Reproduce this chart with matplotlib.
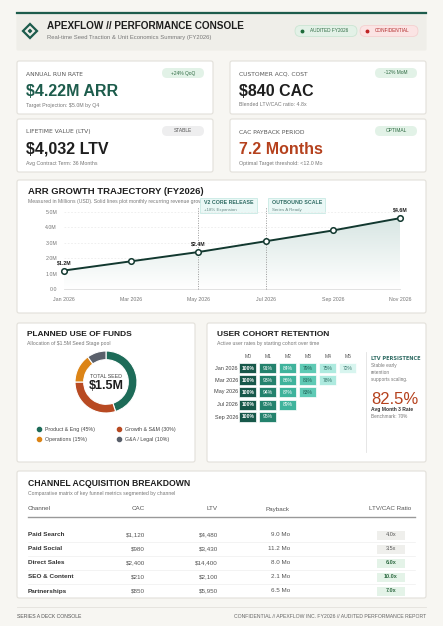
import matplotlib
matplotlib.use("Agg")
import matplotlib.pyplot as plt
import numpy as np
from matplotlib.patches import FancyBboxPatch, Rectangle, Polygon

plt.rcParams['font.family'] = ['Liberation Sans', 'DejaVu Sans']

# ---------------- data ----------------
arr_months = ["Jan 2026", "Mar 2026", "May 2026", "Jul 2026", "Sep 2026", "Nov 2026"]
arr_values = [1.2, 1.8, 2.4, 3.1, 3.8, 4.6]
arr_yticks = [0, 1, 2, 3, 4, 5]

fund_labels = ["Product & Eng (45%)", "Growth & S&M (30%)", "Operations (15%)", "G&A / Legal (10%)"]
fund_shares = [45, 30, 15, 10]
fund_colors = ["#1d6b58", "#b84a22", "#dc8416", "#5a606b"]

cohort_rows = ["Jan 2026", "Mar 2026", "May 2026", "Jul 2026", "Sep 2026"]
cohort_cols = ["M0", "M1", "M2", "M3", "M4", "M5"]
cohort_vals = [[100, 91, 84, 79, 75, 72],
               [100, 93, 86, 81, 78],
               [100, 94, 87, 83],
               [100, 95, 89],
               [100, 95]]

channels = ["Paid Search", "Paid Social", "Direct Sales", "SEO & Content", "Partnerships"]
ch_cac = ["$1,120", "$980", "$2,400", "$210", "$850"]
ch_ltv = ["$4,480", "$3,430", "$14,400", "$2,100", "$5,950"]
ch_payback = ["9.0 Mo", "11.2 Mo", "8.0 Mo", "2.1 Mo", "6.5 Mo"]
ch_ratio = [4.0, 3.5, 6.0, 10.0, 7.0]

W, H = 443, 626
fig = plt.figure(figsize=(W / 100, H / 100), dpi=100)
fig.patch.set_facecolor("#f7f6f2")
base = fig.add_axes([0, 0, 1, 1])
base.set_xlim(0, W); base.set_ylim(H, 0); base.axis("off")

DARK = "#1e1e1e"; GREEN = "#1d5c4c"; GREY = "#777777"; RED = "#b5411d"

def box(x0, y0, x1, y1, fc="white", ec="#e2e0da", lw=0.8, r=2, z=1):
    base.add_patch(FancyBboxPatch((x0, y0), x1 - x0, y1 - y0,
                                  boxstyle=f"round,pad=0,rounding_size={r}",
                                  fc=fc, ec=ec, lw=lw, zorder=z))

def t(x, y, s, size=5, color=DARK, ha="left", va="center", weight="normal", **kw):
    base.text(x, y, s, fontsize=size, color=color, ha=ha, va=va, weight=weight, zorder=5, **kw)

def rpill(cx, cy, w, h, s, fc, tc, size=3.7, ec="none", dot=None):
    base.add_patch(FancyBboxPatch((cx - w / 2, cy - h / 2), w, h,
                                  boxstyle=f"round,pad=0,rounding_size={h/2}",
                                  fc=fc, ec=ec, lw=0.5, zorder=4))
    if dot:
        base.plot([cx - w / 2 + 7], [cy], "o", ms=1.8, color=dot, zorder=6)
        t(cx + 3, cy, s, size=size, color=tc, ha="center")
    else:
        t(cx, cy, s, size=size, color=tc, ha="center")

def spaced(s):
    return "\u2009".join(s) if False else s

# ---------------- header ----------------
box(17, 12, 426, 50, fc="#efeee9", ec="#efeee9", r=1)
base.plot([17, 426], [12.5, 12.5], color="#1d5c4c", lw=1.6, zorder=3)
base.add_patch(Polygon([[30, 24], [37, 31], [30, 38], [23, 31]], closed=True, fc="none", ec=GREEN, lw=1.6, zorder=4))
base.add_patch(Polygon([[30, 29], [32, 31], [30, 33], [28, 31]], closed=True, fc=GREEN, ec=GREEN, lw=0.5, zorder=4))
t(47, 26, "APEXFLOW // PERFORMANCE CONSOLE", size=7.2, weight="bold")
t(47, 37, "Real-time Seed Traction & Unit Economics Summary (FY2026)", size=4.2, color=GREY)
rpill(326, 31, 62, 11, "AUDITED FY2026", "#e3f1e7", "#2f6b43", size=3.4, ec="#c5e3cf", dot="#1f6b3a")
rpill(389, 31, 58, 11, "CONFIDENTIAL", "#fbe4e4", "#b02a2a", size=3.4, ec="#f4cccc", dot="#c02424")

# ---------------- KPI cards ----------------
kpis = [(17, 61, 213, 114, "ANNUAL RUN RATE", "$4.22M ARR", GREEN, "Target Projection: $5.0M by Q4", "+24% QoQ", "#e2f2e7", "#2f6b43"),
        (230, 61, 426, 114, "CUSTOMER ACQ. COST", "$840 CAC", DARK, "Blended LTV/CAC ratio: 4.8x", "-12% MoM", "#e2f2e7", "#2f6b43"),
        (17, 119, 213, 172, "LIFETIME VALUE (LTV)", "$4,032 LTV", DARK, "Avg Contract Term: 36 Months", "STABLE", "#eeeeef", "#555555"),
        (230, 119, 426, 172, "CAC PAYBACK PERIOD", "7.2 Months", RED, "Optimal Target threshold: <12.0 Mo", "OPTIMAL", "#e2f2e7", "#2f6b43")]
for x0, y0, x1, y1, lab, val, vc, sub, pl, pfc, ptc in kpis:
    box(x0, y0, x1, y1)
    base.text(x0 + 9, y0 + 13, lab, fontsize=4.3, color="#555555", va="center", zorder=5,
              family="DejaVu Sans")
    t(x0 + 9, y0 + 30, val, size=11.5, color=vc, weight="bold")
    t(x0 + 9, y0 + 44, sub, size=3.8, color=GREY)
    rpill(x1 - 30, y0 + 12, 42, 10, pl, pfc, ptc, size=3.5)

# ---------------- ARR chart ----------------
box(17, 180, 426, 313)
t(28, 192, "ARR GROWTH TRAJECTORY (FY2026)", size=6.8, weight="bold")
t(28, 201, "Measured in Millions (USD). Solid lines plot monthly recurring revenue growth.", size=3.7, color=GREY)
ylo, yhi = 0, 5.35
axb, axt = 289, 289 - 15.4 * yhi
ax = fig.add_axes([64 / W, 1 - axb / H, (400 - 64) / W, (axb - axt) / H])
ax.set_facecolor("none")
xs = np.arange(len(arr_months))
grad = np.linspace(0, 1, 100).reshape(-1, 1)
im = ax.imshow(grad, extent=[0, len(xs) - 1, 0, max(arr_values)], origin="lower",
               cmap=matplotlib.colors.LinearSegmentedColormap.from_list("g", ["#ffffff", "#d8e6e3"]),
               aspect="auto", zorder=1)
poly = Polygon(np.vstack([[0, 0], np.column_stack([xs, arr_values]), [xs[-1], 0]]), closed=True,
               transform=ax.transData, fc="none", ec="none")
ax.add_patch(poly); im.set_clip_path(poly)
ax.set_xlim(0, len(xs) - 1); ax.set_ylim(ylo, yhi)
for yv in arr_yticks[1:]:
    ax.axhline(yv, color="#ececec", lw=0.6, ls=(0, (2, 2)), zorder=0)
ax.plot(xs, arr_values, color="#12382f", lw=1.4, zorder=3, clip_on=False)
ax.plot(xs, arr_values, "o", ms=4, mfc="white", mec="#12382f", mew=1.1, zorder=4, clip_on=False)
for i in [0, 2, 5]:
    ax.text(xs[i], arr_values[i] + 0.35, f"${arr_values[i]:.1f}M", fontsize=3.8, weight="bold",
            ha="center", va="bottom", color=DARK)
ax.set_yticks(arr_yticks)
ax.set_yticklabels([f"{v:.1f}M" if v else "0.0" for v in arr_yticks], fontsize=3.8, color=GREY)
ax.set_xticks(xs)
ax.set_xticklabels(arr_months, fontsize=3.8, color=GREY)
ax.tick_params(length=0, pad=5)
ax.tick_params(axis="x", pad=6)
for s in ax.spines.values():
    s.set_visible(False)
ax.plot([0, len(xs) - 1], [0, 0], color="#dddddd", lw=0.6, clip_on=False)
for xi, title, sub, bx in [(2, "V2 CORE RELEASE", "+18% Expansion", 200), (3, "OUTBOUND SCALE", "Series A Ready", 268)]:
    ax.plot([xi, xi], [0, yhi], color="#999999", lw=0.7, ls=(0, (1, 1.5)), zorder=2, clip_on=False)
    base.add_patch(Rectangle((bx, 198), 57, 15, fc="#eaf8f6", ec="#bfe6e0", lw=0.5, zorder=6))
    base.text(bx + 4, 203, title, fontsize=3.8, color="#2f6b63", weight="bold", va="center", zorder=7)
    base.text(bx + 4, 209.5, sub, fontsize=3.2, color="#6a8a86", va="center", zorder=7)

# ---------------- donut ----------------
box(17, 323, 195, 462)
t(27, 334, "PLANNED USE OF FUNDS", size=6, weight="bold")
t(27, 343, "Allocation of $1.5M Seed Stage pool", size=3.7, color=GREY)
cx, cy, R = 106, 382, 31
dax = fig.add_axes([(cx - R) / W, 1 - (cy + R) / H, 2 * R / W, 2 * R / H])
dax.pie(fund_shares, colors=fund_colors, startangle=90, counterclock=False,
        wedgeprops=dict(width=0.28, edgecolor="white", linewidth=0.8), radius=1)
dax.set_xlim(-1, 1); dax.set_ylim(-1, 1)
dax.set_aspect("equal"); dax.axis("off")
t(cx, cy - 6, "TOTAL SEED", size=3.8, color="#444444", ha="center")
t(cx, cy + 4, "$1.5M", size=9, weight="bold", ha="center")
for i, (lab, col) in enumerate(zip(fund_labels, fund_colors)):
    lx = 39 if i % 2 == 0 else 119
    ly = 429 if i < 2 else 439
    base.plot([lx], [ly], "o", ms=3, color=col, zorder=6)
    t(lx + 6, ly, lab, size=3.8, color="#444444")

# ---------------- cohort ----------------
box(207, 323, 426, 462)
t(217, 334, "USER COHORT RETENTION", size=6, weight="bold")
t(217, 343, "Active user rates by starting cohort over time", size=3.7, color=GREY)
col_x = [248, 268, 288, 308, 328, 348]
row_y = [368, 380, 392, 405, 417]
def cell_col(v):
    if v >= 100: return "#17584a", "white"
    if v >= 90: return "#24826d", "white"
    if v >= 84: return "#3fb39c", "white"
    if v >= 79: return "#5fcab5", "#1e5d52"
    if v >= 75: return "#aeeadf", "#2b6b60"
    return "#d8f5ef", "#3c7a70"
for j, c in enumerate(cohort_cols):
    t(col_x[j], 356, c, size=3.6, color="#555555", ha="center")
for i, (rl, vals) in enumerate(zip(cohort_rows, cohort_vals)):
    t(238, row_y[i], rl, size=4, color="#444444", ha="right")
    for j, v in enumerate(vals):
        fc, tc = cell_col(v)
        base.add_patch(Rectangle((col_x[j] - 8.5, row_y[i] - 5), 17, 10, fc=fc, ec="white", lw=0.5, zorder=3))
        t(col_x[j], row_y[i], f"{v}%", size=3.6, color=tc, ha="center",
          weight="bold" if v >= 100 else "normal")
base.plot([366, 366], [352, 452], color="#e2e2e2", lw=0.6, zorder=3)
base.text(371, 358, "LTV PERSISTENCE", fontsize=3.6, color="#2f6b63", weight="bold", va="center",
          family="DejaVu Sans", zorder=5)
for k, s in enumerate(["Stable early", "retention", "supports scaling."]):
    t(371, 366 + 7 * k, s, size=3.4, color=GREY)
t(371, 399, "82.5%", size=12, color=RED)
t(371, 410, "Avg Month 3 Rate", size=3.6, weight="bold", color="#333333")
t(371, 417, "Benchmark: 70%", size=3.4, color=GREY)

# ---------------- table ----------------
box(17, 471, 426, 598)
t(28, 484, "CHANNEL ACQUISITION BREAKDOWN", size=6.2, weight="bold")
t(28, 493, "Comparative matrix of key funnel metrics segmented by channel", size=3.7, color=GREY)
hdr_y = 509
t(28, hdr_y, "Channel", size=4.5, color="#555555")
t(145, hdr_y, "CAC", size=4.5, color="#555555", ha="right")
t(218, hdr_y, "LTV", size=4.5, color="#555555", ha="right")
t(290, hdr_y, "Payback", size=4.5, color="#555555", ha="right")
t(411, hdr_y, "LTV/CAC Ratio", size=4.5, color="#555555", ha="right")
base.plot([28, 415], [516.5, 516.5], color="#999999", lw=1.0, zorder=3)
ry = [535, 549, 563, 577, 591]
for i in range(len(channels)):
    t(28, ry[i], channels[i], size=4.6, weight="bold", color="#333333")
    t(145, ry[i], ch_cac[i], size=4.5, color="#555555", ha="right")
    t(218, ry[i], ch_ltv[i], size=4.5, color="#555555", ha="right")
    t(290, ry[i], ch_payback[i], size=4.5, color="#555555", ha="right")
    good = ch_ratio[i] >= 6
    base.add_patch(Rectangle((377, ry[i] - 4.5), 28, 9, fc="#e4f3e8" if good else "#efefec", ec="none", zorder=3))
    t(391, ry[i], f"{ch_ratio[i]:.1f}x", size=4, ha="center", color="#2f6b43" if good else "#555555",
      weight="bold" if good else "normal")
    if i < len(channels) - 1:
        base.plot([28, 415], [ry[i] + 7, ry[i] + 7], color="#efefef", lw=0.5, zorder=2)

# ---------------- footer ----------------
base.plot([17, 426], [607, 607], color="#e3e1dc", lw=0.6)
t(17, 616, "SERIES A DECK CONSOLE", size=3.7, color="#555555")
t(426, 616, "CONFIDENTIAL // APEXFLOW INC. FY2026 // AUDITED PERFORMANCE REPORT", size=3.7, color="#666666", ha="right")

fig.savefig("out.png", dpi=100, facecolor=fig.get_facecolor())
